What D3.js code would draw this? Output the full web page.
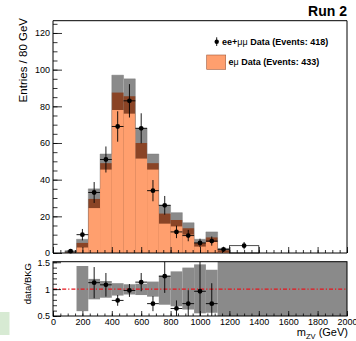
<!DOCTYPE html>
<html>
<head>
<meta charset="utf-8">
<script src="https://cdn.jsdelivr.net/npm/d3@7"></script>
<style>
  body { margin: 0; background: #fff; }
  svg { display: block; font-family: "Liberation Sans", Arial, Helvetica, sans-serif; }
</style>
</head>
<body>
<div id="chart"></div>
<script>
'use strict'

// ---------- data ----------
// 80 GeV bins, lower edges
const binLo = [0, 80, 160, 240, 320, 400, 480, 560, 640, 720, 800, 880, 960, 1040, 1120]
const binWidth = 80
// e-mu data (orange), top of brown stack, top of grey uncertainty
const emu     = [0, 0, 3, 24.5, 45.5, 78, 76, 51.5, 45.5, 16, 14.5, 10, 3.5, 6, 0.5]
const stackTop = [0, 0.3, 5.5, 29.5, 49, 87.5, 85.5, 60, 49, 21.5, 18, 13.5, 5.5, 8.5, 1.5]
const errTop  = [0, 0.5, 7.5, 35, 54, 97, 95, 68, 54, 26, 22, 16.5, 7.5, 11.5, 2.5]
// ee+mumu data points
const dataX   = [120, 200, 280, 360, 440, 520, 600, 680, 760, 840, 920, 1000, 1080, 1160, 1300]
const dataY   = [1, 10, 33, 51, 69, 83, 68, 34, 26, 11.5, 9.5, 5.5, 6.5, 2, 4]
const dataErr = [1, 3.1, 5.7, 7.1, 8.3, 9.1, 8.2, 5.8, 5.1, 3.4, 3.1, 2.3, 2.5, 1.4, 2]
const dataHalfW = [40, 40, 40, 40, 40, 40, 40, 40, 40, 40, 40, 40, 40, 40, 100]
// wide bin drawn as an empty box
const wideBin = [1200, 1400]
const wideVal = 4

// ratio panel
const ratioX   = [280, 360, 440, 520, 600, 680, 760, 840, 920, 1000, 1080]
const ratioY   = [1.12, 1.08, 0.79, 0.975, 1.13, 0.73, 1.24, 0.64, 0.73, 0.96, 0.73]
const ratioErr = [0.29, 0.22, 0.1, 0.12, 0.17, 0.14, 0.31, 0.15, 0.25, 0.55, 0.38]
const bandLo0  = [160, 240, 320, 400, 480, 560, 640, 720, 800, 880, 960, 1040, 1120]
const bandLo1  = [240, 320, 400, 480, 560, 640, 720, 800, 880, 960, 1040, 1120, 2000]
const bandMin  = [0.59, 0.81, 0.84, 0.88, 0.9, 0.89, 0.86, 0.71, 0.68, 0.62, 0.55, 0.56, 0.4]
const bandMax  = [1.43, 1.19, 1.15, 1.11, 1.09, 1.1, 1.14, 1.25, 1.33, 1.4, 1.46, 1.36, 1.6]

const xTicks = [0, 200, 400, 600, 800, 1000, 1200, 1400, 1600, 1800, 2000]
const yTicks = [0, 20, 40, 60, 80, 100, 120]
const rTicks = [0.5, 1, 1.5]
const rTickLabels = ['0.5', '1', '1.5']

// ---------- svg setup ----------
const svgWidth = 356
const svgHeight = 341
const left = 53, right = 347
const mainTop = 20.7, mainBottom = 253
const ratioTop = 261.7, ratioBottom = 316

const ORANGE = '#ff9f6e'
const BROWN = '#8a4426'
const GREY = '#8a8a8a'

const svg = d3.select('#chart')
    .append('svg')
    .attr('width', svgWidth)
    .attr('height', svgHeight)

// little green patch at the bottom-left
svg.append('rect')
    .attr('x', 0).attr('y', 312)
    .attr('width', 9.5).attr('height', 23)
    .attr('fill', '#d7ead3')

// ---------- scales ----------
const x = d3.scaleLinear().domain([0, 2000]).range([left, right])
const y = d3.scaleLinear().domain([0, 126.7]).range([mainBottom, mainTop])
const yr = d3.scaleLinear().domain([0.5, 1.51]).range([ratioBottom, ratioTop])

// ---------- main histogram ----------
const bins = binLo.map((lo, i) => ({ lo: lo, hi: lo + binWidth, emu: emu[i], stack: stackTop[i], err: errTop[i] }))
    .filter(d => d.err > 0)

const hist = svg.append('g')
hist.selectAll('.grey').data(bins).join('rect')
    .attr('x', d => x(d.lo)).attr('width', d => x(d.hi) - x(d.lo))
    .attr('y', d => y(d.err)).attr('height', d => y(0) - y(d.err))
    .attr('fill', GREY)
hist.selectAll('.brown').data(bins).join('rect')
    .attr('x', d => x(d.lo)).attr('width', d => x(d.hi) - x(d.lo))
    .attr('y', d => y(d.stack)).attr('height', d => y(0) - y(d.stack))
    .attr('fill', BROWN)
hist.selectAll('.orange').data(bins).join('rect')
    .attr('x', d => x(d.lo)).attr('width', d => x(d.hi) - x(d.lo))
    .attr('y', d => y(d.emu)).attr('height', d => y(0) - y(d.emu))
    .attr('fill', ORANGE)

// faint outline of the stack
const stepLine = d3.line().curve(d3.curveStepAfter).x(d => x(d[0])).y(d => y(d[1]))
const stepPts = bins.map(d => [d.lo, d.err]).concat([[bins[bins.length - 1].hi, 0]])
hist.append('path')
    .attr('d', stepLine(stepPts))
    .attr('fill', 'none').attr('stroke', '#777').attr('stroke-width', 0.4)

// wide empty bin
svg.append('rect')
    .attr('x', x(wideBin[0])).attr('width', x(wideBin[1]) - x(wideBin[0]))
    .attr('y', y(wideVal)).attr('height', y(0) - y(wideVal))
    .attr('fill', 'none').attr('stroke', '#222').attr('stroke-width', 0.8)

// data points
const pts = dataX.map((v, i) => ({ x: v, y: dataY[i], e: dataErr[i], hw: dataHalfW[i] }))
const pg = svg.append('g')
pg.selectAll('.ev').data(pts).join('line')
    .attr('x1', d => x(d.x)).attr('x2', d => x(d.x))
    .attr('y1', d => y(d.y + d.e)).attr('y2', d => y(Math.max(0, d.y - d.e)))
    .attr('stroke', '#000').attr('stroke-width', 0.9)
pg.selectAll('.eh').data(pts.filter(d => d.hw <= 40)).join('line')
    .attr('x1', d => x(d.x - d.hw)).attr('x2', d => x(d.x + d.hw))
    .attr('y1', d => y(d.y)).attr('y2', d => y(d.y))
    .attr('stroke', '#000').attr('stroke-width', 0.9)
pg.selectAll('circle').data(pts).join('circle')
    .attr('cx', d => x(d.x)).attr('cy', d => y(d.y)).attr('r', 2.4)
    .attr('fill', '#000')

// ---------- main axes ----------
const xMajor = d3.axisBottom(x).tickValues(xTicks).tickSize(-6).tickFormat('')
const xMinor = d3.axisBottom(x).tickValues(d3.range(0, 2001, 50)).tickSize(-3).tickFormat('')
svg.append('g').attr('transform', `translate(0,${mainBottom})`).call(xMinor)
svg.append('g').attr('transform', `translate(0,${mainBottom})`).call(xMajor)

const yMajor = d3.axisLeft(y).tickValues(yTicks).tickSize(-9).tickPadding(3).tickFormat(d3.format('d'))
const yMinor = d3.axisLeft(y).tickValues(d3.range(0, 126, 5)).tickSize(-4.5).tickFormat('')
svg.append('g').attr('transform', `translate(${left},0)`).call(yMinor)
svg.append('g').attr('class', 'ylab').attr('transform', `translate(${left},0)`).call(yMajor)

// frame
svg.append('path')
    .attr('d', `M${left},${mainBottom}V${mainTop}H${right}V${mainBottom}Z`)
    .attr('fill', 'none').attr('stroke', '#000').attr('stroke-width', 1)

// ---------- ratio panel ----------
svg.append('clipPath').attr('id', 'rclip')
    .append('rect').attr('x', left).attr('y', ratioTop)
    .attr('width', right - left).attr('height', ratioBottom - ratioTop)

const rp = svg.append('g').attr('clip-path', 'url(#rclip)')
const band = bandLo0.map((a, i) => ({ a: a, b: bandLo1[i], lo: bandMin[i], hi: bandMax[i] }))
rp.selectAll('.band').data(band).join('rect')
    .attr('x', d => x(d.a)).attr('width', d => x(d.b) - x(d.a))
    .attr('y', d => yr(d.hi)).attr('height', d => yr(d.lo) - yr(d.hi))
    .attr('fill', GREY)

rp.append('line')
    .attr('x1', x(0)).attr('x2', x(2000))
    .attr('y1', yr(1)).attr('y2', yr(1))
    .attr('stroke', '#e8141c').attr('stroke-width', 1.3)
    .attr('stroke-dasharray', '4,2,1.2,2')

const rpts = ratioX.map((v, i) => ({ x: v, y: ratioY[i], e: ratioErr[i] }))
rp.selectAll('.rv').data(rpts).join('line')
    .attr('x1', d => x(d.x)).attr('x2', d => x(d.x))
    .attr('y1', d => yr(d.y + d.e)).attr('y2', d => yr(d.y - d.e))
    .attr('stroke', '#000').attr('stroke-width', 0.9)
rp.selectAll('.rh').data(rpts).join('line')
    .attr('x1', d => x(d.x - 40)).attr('x2', d => x(d.x + 40))
    .attr('y1', d => yr(d.y)).attr('y2', d => yr(d.y))
    .attr('stroke', '#000').attr('stroke-width', 0.9)
rp.selectAll('circle').data(rpts).join('circle')
    .attr('cx', d => x(d.x)).attr('cy', d => yr(d.y)).attr('r', 2.4)
    .attr('fill', '#000')

const rxMajor = d3.axisBottom(x).tickValues(xTicks).tickSize(-5).tickPadding(3).tickFormat(d3.format('d'))
const rxMinor = d3.axisBottom(x).tickValues(d3.range(0, 2001, 50)).tickSize(-2.5).tickFormat('')
svg.append('g').attr('transform', `translate(0,${ratioBottom})`).call(rxMinor)
svg.append('g').attr('class', 'xlab').attr('transform', `translate(0,${ratioBottom})`).call(rxMajor)

const ryMajor = d3.axisLeft(yr).tickValues(rTicks).tickSize(-8).tickPadding(3)
    .tickFormat((d, i) => rTickLabels[i])
const ryMinor = d3.axisLeft(yr).tickValues(d3.range(0.5, 1.51, 0.1)).tickSize(-4).tickFormat('')
svg.append('g').attr('transform', `translate(${left},0)`).call(ryMinor)
svg.append('g').attr('class', 'ylab').attr('transform', `translate(${left},0)`).call(ryMajor)

svg.append('rect')
    .attr('x', left).attr('y', ratioTop)
    .attr('width', right - left).attr('height', ratioBottom - ratioTop)
    .attr('fill', 'none').attr('stroke', '#000').attr('stroke-width', 1)

// axis styling
svg.selectAll('.domain').remove()
svg.selectAll('.tick line').attr('stroke', '#000').attr('stroke-width', 0.8)
svg.selectAll('.tick text').attr('fill', '#000').attr('font-size', '9px')
    .attr('font-family', '"Liberation Sans", Arial, sans-serif')

// ---------- titles ----------
svg.append('text')
    .attr('transform', 'translate(27,18) rotate(-90)')
    .attr('text-anchor', 'end')
    .attr('font-size', '11.5px')
    .text('Entries / 80 GeV')

svg.append('text')
    .attr('transform', 'translate(30.5,263) rotate(-90)')
    .attr('text-anchor', 'end')
    .attr('font-size', '9.5px')
    .text('data/BKG')

const xt = svg.append('text')
    .attr('x', 348).attr('y', 336)
    .attr('text-anchor', 'end')
    .attr('font-size', '11px')
xt.append('tspan').text('m')
xt.append('tspan').attr('font-size', '7.5px').attr('dy', 2.5).text('ZV')
xt.append('tspan').attr('dy', -2.5).text(' (GeV)')

svg.append('text')
    .attr('x', 347).attr('y', 16)
    .attr('text-anchor', 'end')
    .attr('font-size', '14px')
    .attr('font-weight', 'bold')
    .text('Run 2')

// ---------- legend ----------
const lg = svg.append('g').attr('font-size', '9px').attr('font-weight', 'bold')
lg.append('line')
    .attr('x1', 216.7).attr('x2', 216.7).attr('y1', 37.3).attr('y2', 46)
    .attr('stroke', '#000').attr('stroke-width', 0.9)
lg.append('circle').attr('cx', 216.7).attr('cy', 41.7).attr('r', 2.2).attr('fill', '#000')
const t1 = lg.append('text').attr('x', 222).attr('y', 44.7)
t1.append('tspan').text('ee+')
t1.append('tspan').attr('font-weight', 'normal').text('\u03bc\u03bc')
t1.append('tspan').text(' Data (Events: 418)')

lg.append('rect')
    .attr('x', 206.7).attr('y', 55).attr('width', 19).attr('height', 14.3)
    .attr('fill', ORANGE).attr('stroke', '#a0593a').attr('stroke-width', 0.6)
const t2 = lg.append('text').attr('x', 228.5).attr('y', 65.2)
t2.append('tspan').text('e')
t2.append('tspan').attr('font-weight', 'normal').text('\u03bc')
t2.append('tspan').text(' Data (Events: 433)')
</script>
</body>
</html>
